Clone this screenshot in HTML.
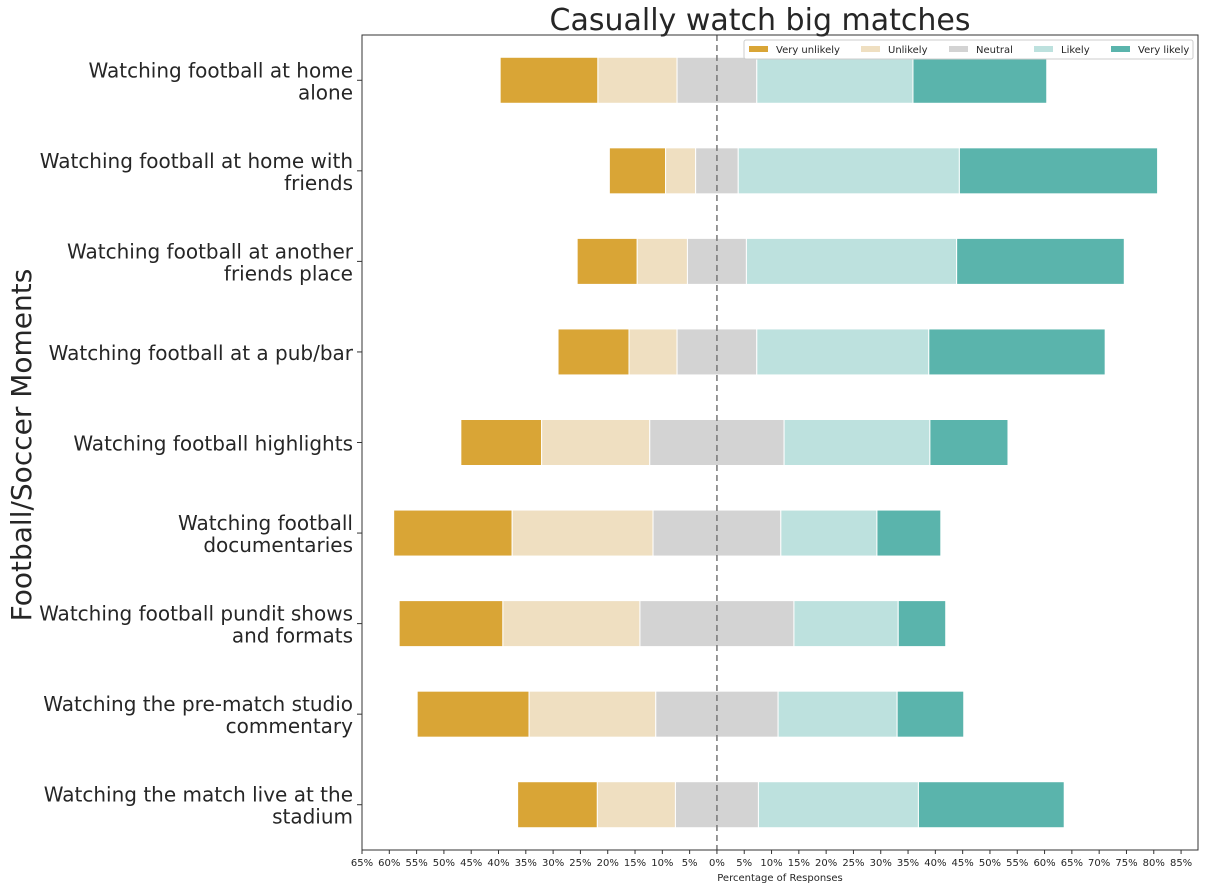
<!DOCTYPE html>
<html><head><meta charset="utf-8">
<style>
body{margin:0;background:#fff;font-family:"DejaVu Sans","Liberation Sans",sans-serif;}
</style></head>
<body>
<svg id="chart" width="1205" height="889" xmlns="http://www.w3.org/2000/svg" font-family="DejaVu Sans, Liberation Sans, sans-serif"></svg>
<script>
const categories=["Watching football at home|alone","Watching football at home with|friends","Watching football at another|friends place","Watching football at a pub/bar","Watching football highlights","Watching football|documentaries","Watching football pundit shows|and formats","Watching the pre-match studio|commentary","Watching the match live at the|stadium"];
const seriesNames=["Very unlikely","Unlikely","Neutral","Likely","Very likely"];
const veryUnlikely=[17.9,10.3,11.0,13.0,14.8,21.7,19.0,20.5,14.6];
const unlikely=[14.5,5.5,9.2,8.8,19.8,25.8,25.1,23.2,14.3];
const neutral=[14.6,7.8,10.8,14.6,24.6,23.4,28.2,22.4,15.2];
const likely=[28.6,40.5,38.5,31.5,26.7,17.6,19.1,21.8,29.3];
const veryLikely=[24.5,36.3,30.7,32.3,14.3,11.7,8.7,12.2,26.7];
const tickValues=[-65,-60,-55,-50,-45,-40,-35,-30,-25,-20,-15,-10,-5,0,5,10,15,20,25,30,35,40,45,50,55,60,65,70,75,80,85];
const colors=["#d9a536","#efdfc1","#d3d3d3","#bde1de","#5ab4ac"];
const svg=document.getElementById('chart');
const NS="http://www.w3.org/2000/svg";
const L=362,R=1198,T=35,B=850,xmin=-65,xmax=88.1;
const x=v=>L+(v-xmin)/(xmax-xmin)*(R-L);
const rowH=(B-T)/categories.length;
const y=i=>T+rowH*(i+0.5);
function mk(tag,attrs,parent){const e=document.createElementNS(NS,tag);for(const k in attrs)e.setAttribute(k,attrs[k]);(parent||svg).appendChild(e);return e;}
const series=[veryUnlikely,unlikely,neutral,likely,veryLikely];
let t=mk('text',{x:760,y:30,'font-size':30,'text-anchor':'middle',fill:'#262626'});t.textContent="Casually watch big matches";


categories.forEach((c,i)=>{
  let start=-(veryUnlikely[i]+unlikely[i]+neutral[i]/2);
  series.forEach((s,k)=>{
    const r=mk('rect',{x:x(start),y:y(i)-23,width:x(start+s[i])-x(start),height:46,fill:colors[k],stroke:'#fff','stroke-width':1});
    
    
    start+=s[i];
  });
  const lines=c.split('|');
  const tx=mk('text',{x:353,'font-size':20,'text-anchor':'end',fill:'#262626'});
  
  
  lines.forEach((ln,j)=>{const ts=mk('tspan',{x:353,y:y(i)+8+(j-(lines.length-1)/2)*22},tx);ts.textContent=ln;});
  mk('line',{x1:357,x2:362,y1:y(i),y2:y(i),stroke:'#333'});
});
const z=mk('line',{x1:x(0),x2:x(0),y1:T,y2:B,stroke:'#777','stroke-width':1.5,'stroke-dasharray':'6,4'});


const f=mk('rect',{x:L,y:T,width:R-L,height:B-T,fill:'none',stroke:'#333','stroke-width':1});


tickValues.forEach(v=>{
  mk('line',{x1:x(v),x2:x(v),y1:B,y2:B+4,stroke:'#333'});
  const tl=mk('text',{x:x(v),y:B+16,'font-size':10,'text-anchor':'middle',fill:'#262626'});
  tl.textContent=Math.abs(v)+'%';
  
  
});
let xt=mk('text',{x:780,y:881,'font-size':10,'text-anchor':'middle',fill:'#262626'});xt.textContent="Percentage of Responses";


let yt=mk('text',{x:0,y:0,'font-size':28,'text-anchor':'middle',fill:'#262626',transform:'translate(31,445) rotate(-90)'});yt.textContent="Football/Soccer Moments";


const lg=mk('g',{});


mk('rect',{x:744,y:40,width:449,height:19,fill:'#fff',stroke:'#ccc',rx:2},lg);
const lx=[749,861,949,1034,1111];
seriesNames.forEach((n,k)=>{
  const g=mk('g',{},lg);
  
  
  mk('rect',{x:lx[k],y:46,width:19,height:6,fill:colors[k]},g);
  const tt=mk('text',{x:lx[k]+27,y:53,'font-size':10,fill:'#262626'},g);tt.textContent=n;
});
</script>
</body></html>
